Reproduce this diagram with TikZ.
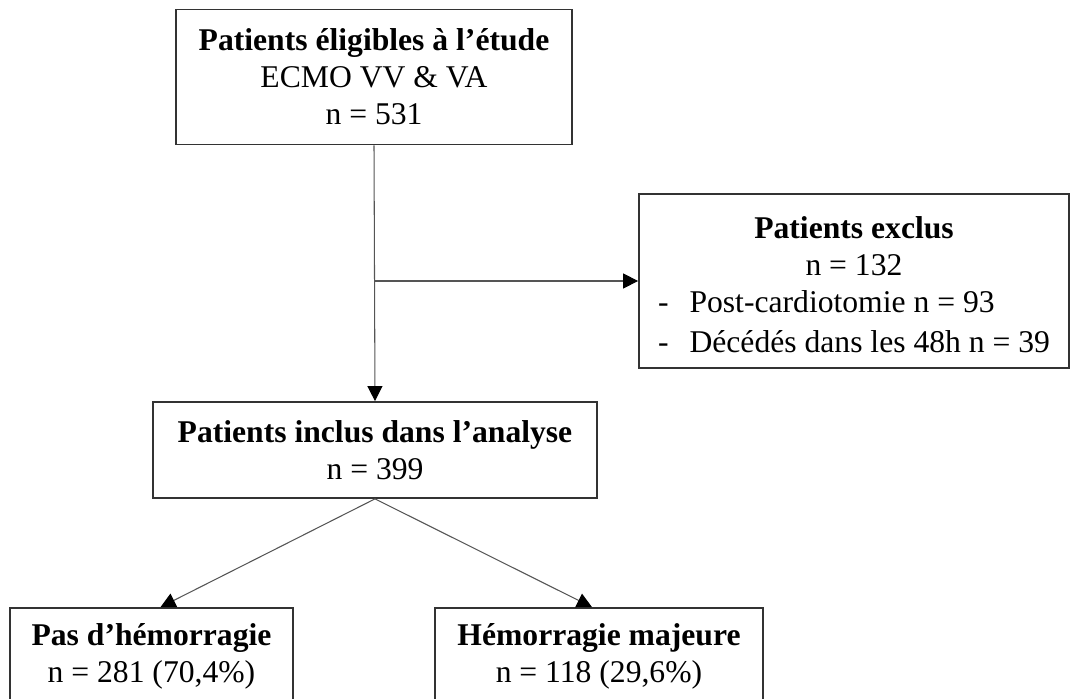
\documentclass[tikz,border=0pt]{standalone}
\usepackage{fontspec}
\setmainfont{Liberation Serif}
\usetikzlibrary{arrows.meta, calc}
\definecolor{boxborder}{HTML}{333333}
\definecolor{linkline}{HTML}{555555}
\tikzset{
  box/.style={rectangle, draw=boxborder, line width=1pt, fill=white, align=center, inner sep=0pt,
    font=\fontsize{18}{21}\selectfont},
  flow/.style={-{Triangle[length=0.3cm, width=0.3cm, color=black]}, line width=0.6pt, draw=linkline},
  title/.style={font=\bfseries}
}

\begin{document}
\begin{tikzpicture}

\useasboundingbox (0,0) rectangle (21.42,-13.98);
\clip (0,0) rectangle (21.42,-13.98);

\node[box, minimum width=7.92cm, minimum height=2.7cm] (eligible) at (7.48, -1.54)
  {\textbf{Patients éligibles à l’étude}\\ECMO VV \& VA\\n = 531};
\node[box, minimum width=8.6cm, minimum height=3.48cm] (excluded) at (17.08, -5.62)
  {\raisebox{-0.3cm}[0pt][0pt]{\begin{tabular}{@{}l@{\hspace{0.42cm}}l@{}}
     \multicolumn{2}{@{}c@{}}{\textbf{Patients exclus}}\\[0pt]
     \multicolumn{2}{@{}c@{}}{n = 132}\\[0pt]
     - & Post-cardiotomie n = 93\\[2pt]
     - & Décédés dans les 48h n = 39
   \end{tabular}}};
\node[box, minimum width=8.88cm, minimum height=1.92cm] (included) at (7.5, -9.0)
  {\textbf{Patients inclus dans l’analyse}\\n = 399};
\node[box, minimum width=5.66cm, minimum height=1.94cm] (nobleed) at (3.03, -13.13)
  {\textbf{Pas d’hémorragie}\\n = 281 (70,4\%)};
\node[box, minimum width=6.56cm, minimum height=1.94cm] (bleed) at (11.98, -13.13)
  {\textbf{Hémorragie majeure}\\n = 118 (29,6\%)};

\coordinate (split) at (eligible.south |- excluded.west);

\draw[flow] (eligible.south) -- (included.north);
\draw[flow] (split) -- (excluded.west);
\draw[flow] (included.south) -- ([xshift=0.18cm]nobleed.north);
\draw[flow] (included.south) -- ([xshift=-0.14cm]bleed.north);

\end{tikzpicture}
\end{document}
